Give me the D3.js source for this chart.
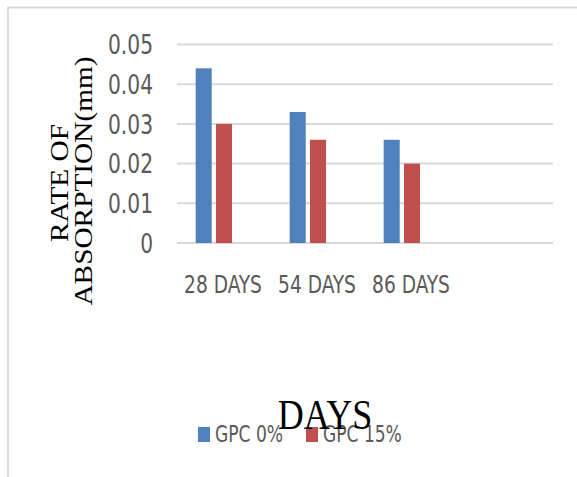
<!DOCTYPE html>
<html>
<head>
<meta charset="utf-8">
<script src="https://cdn.jsdelivr.net/npm/d3@7"></script>
<style>
  html, body { margin: 0; padding: 0; background: #ffffff; }
  svg { display: block; }
</style>
</head>
<body>
<svg id="chart" width="577" height="477"></svg>
<script>
// Categories (the last slot is left blank, as in the source worksheet)
const categories = ["28 DAYS", "54 DAYS", "86 DAYS", ""];
// Series names and values (rate of absorption, mm)
const seriesNames = ["GPC 0%", "GPC 15%"];
const gpc0 = [0.044, 0.033, 0.026, null];
const gpc15 = [0.030, 0.026, 0.020, null];
// Y axis ticks
const yTicks = [0, 0.01, 0.02, 0.03, 0.04, 0.05];
const yTickLabels = ["0", "0.01", "0.02", "0.03", "0.04", "0.05"];

const seriesValues = [gpc0, gpc15];
const colors = ["#4F81BD", "#C0504D"];
const labelFont = "'DejaVu Sans Condensed', 'Liberation Sans Narrow', 'Liberation Sans', sans-serif";
const serifFont = "'Liberation Serif', 'DejaVu Serif', serif";
const stretch = 1.2; // text is drawn slightly taller than wide

const svg = d3.select("#chart");

// Chart frame
svg.append("rect")
  .attr("x", 8).attr("y", 7.5)
  .attr("width", 600).attr("height", 500)
  .attr("fill", "none")
  .attr("stroke", "#d9d9d9")
  .attr("stroke-width", 2);

const plot = { left: 177, right: 553, top: 44.5, bottom: 243 };

const y = d3.scaleLinear().domain([0, 0.05]).range([plot.bottom, plot.top]);
const x = d3.scaleBand().domain(categories).range([plot.left, plot.right])
  .paddingInner(0).paddingOuter(0);
// three slots per category; the third slot is unused
const xSub = d3.scaleBand().domain([0, 1, 2]).range([0, x.bandwidth()])
  .paddingInner(0.21).paddingOuter(0.92);

// Gridlines
svg.append("g").selectAll("line")
  .data(yTicks)
  .join("line")
  .attr("x1", plot.left).attr("x2", plot.right)
  .attr("y1", d => y(d)).attr("y2", d => y(d))
  .attr("stroke", "#d9d9d9")
  .attr("stroke-width", 2);

// Y tick labels
svg.append("g").selectAll("text")
  .data(yTicks)
  .join("text")
  .attr("transform", d => `translate(153,${y(d)}) scale(1,${stretch})`)
  .attr("dy", "0.36em")
  .attr("text-anchor", "end")
  .attr("font-family", labelFont)
  .attr("font-size", 22.5)
  .attr("fill", "#595959")
  .text((d, i) => yTickLabels[i]);

// Bars
seriesValues.forEach((vals, s) => {
  svg.append("g").selectAll("rect")
    .data(categories.map((c, i) => ({ c, v: vals[i] })).filter(d => d.v != null))
    .join("rect")
    .attr("x", d => x(d.c) + xSub(s))
    .attr("width", xSub.bandwidth())
    .attr("y", d => y(d.v))
    .attr("height", d => y(0) - y(d.v))
    .attr("fill", colors[s]);
});

// Category labels
svg.append("g").selectAll("text")
  .data(categories)
  .join("text")
  .attr("transform", d => `translate(${x(d) + x.bandwidth() / 2 - 1},293) scale(1,${stretch})`)
  .attr("text-anchor", "middle")
  .attr("font-family", labelFont)
  .attr("font-size", 20.7)
  .attr("fill", "#595959")
  .text(d => d);

// Y axis title (two lines, rotated)
const yTitle = [
  { text: "RATE OF", x: 68, y: 183 },
  { text: "ABSORPTION(mm)", x: 92, y: 181 }
];
svg.append("g").selectAll("text")
  .data(yTitle)
  .join("text")
  .attr("transform", d => `translate(${d.x},${d.y}) rotate(-90) scale(1.15,1)`)
  .attr("text-anchor", "middle")
  .attr("font-family", serifFont)
  .attr("font-size", 25.5)
  .attr("fill", "#000000")
  .text(d => d.text);

// Legend
const legendItems = [
  { name: seriesNames[0], color: colors[0], sx: 198, tx: 215 },
  { name: seriesNames[1], color: colors[1], sx: 306, tx: 323 }
];
const lg = svg.append("g");
lg.selectAll("rect")
  .data(legendItems)
  .join("rect")
  .attr("x", d => d.sx).attr("y", 427)
  .attr("width", 12).attr("height", 15)
  .attr("fill", d => d.color);
lg.selectAll("text")
  .data(legendItems)
  .join("text")
  .attr("transform", d => `translate(${d.tx},442) scale(1,${stretch})`)
  .attr("font-family", labelFont)
  .attr("font-size", 19)
  .attr("fill", "#595959")
  .text(d => d.name);

// X axis title
svg.append("text")
  .attr("transform", `translate(325,429) scale(1,${stretch})`)
  .attr("text-anchor", "middle")
  .attr("font-family", serifFont)
  .attr("font-size", 36)
  .attr("fill", "#000000")
  .text("DAYS");
</script>
</body>
</html>
